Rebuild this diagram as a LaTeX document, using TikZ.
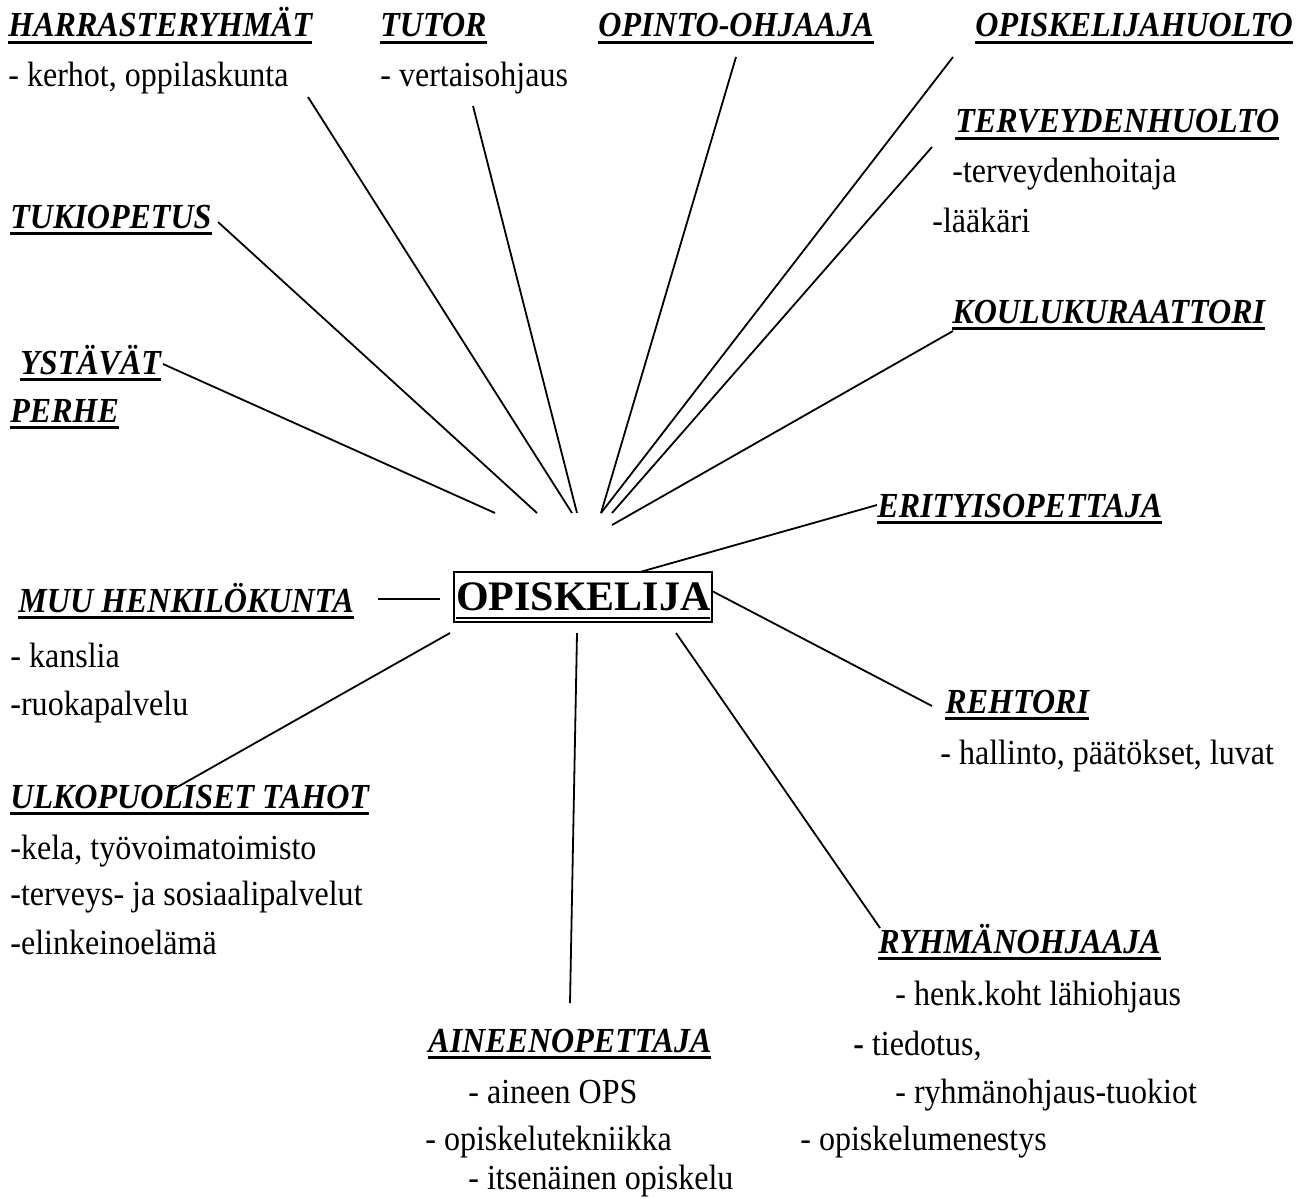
\documentclass[tikz,border=0pt]{standalone}
\usepackage{fontspec}
\setmainfont{Liberation Serif}[FakeStretch=0.91]
\newfontfamily\centerfont{Liberation Serif}
\newcommand\myul[1]{\setbox0\hbox{#1}\rlap{\rule[-3.3pt]{\wd0}{1.3pt}}\box0}
\newcommand\mybigul[1]{\setbox0\hbox{#1}\rlap{\rule[-4.5pt]{\wd0}{1pt}}\box0}
\begin{document}
\begin{tikzpicture}[x=0.5pt,y=-0.5pt,
  head/.style={anchor=base west, inner sep=0pt, font=\fontsize{17.6}{21}\selectfont\bfseries\itshape},
  body/.style={anchor=base west, inner sep=0pt, font=\fontsize{17.6}{21}\selectfont},
  conn/.style={line width=0.9pt}]
\useasboundingbox (0,0) rectangle (1309,1198);
% central node
\node[draw, line width=1pt, anchor=base west, inner xsep=1pt, inner ysep=0pt,
  text height=19pt, text depth=6pt, font=\centerfont\fontsize{21}{25}\selectfont\bfseries]
  (opisk) at (453,610) {\mybigul{OPISKELIJA}};
% headings
\node[head] (harr) at (8,37) {\myul{HARRASTERYHMÄT}};
\node[head] (tutor) at (380,37) {\myul{TUTOR}};
\node[head] (opinto) at (598,37) {\myul{OPINTO-OHJAAJA}};
\node[head] (ohuolto) at (975,37) {\myul{OPISKELIJAHUOLTO}};
\node[head] (terv) at (955,133) {\myul{TERVEYDENHUOLTO}};
\node[head] (tuki) at (10,228) {\myul{TUKIOPETUS}};
\node[head] (koulu) at (952,323) {\myul{KOULUKURAATTORI}};
\node[head] (ystavat) at (20,374) {\myul{YSTÄVÄT}};
\node[head] (perhe) at (10,422) {\myul{PERHE}};
\node[head] (erity) at (877,517) {\myul{ERITYISOPETTAJA}};
\node[head] (muu) at (18,612) {\myul{MUU HENKILÖKUNTA}};
\node[head] (rehtori) at (945,713) {\myul{REHTORI}};
\node[head] (ulko) at (10,808) {\myul{ULKOPUOLISET TAHOT}};
\node[head] (ryhma) at (878,953) {\myul{RYHMÄNOHJAAJA}};
\node[head] (aineen) at (428,1052) {\myul{AINEENOPETTAJA}};
% body texts
\node[body] (b1) at (8,87) {- kerhot, oppilaskunta};
\node[body] (b2) at (380,87) {- vertaisohjaus};
\node[body] (b3) at (952,183) {-terveydenhoitaja};
\node[body] (b4) at (932,232) {-lääkäri};
\node[body] (b5) at (10,667) {- kanslia};
\node[body] (b6) at (10,715) {-ruokapalvelu};
\node[body] (b7) at (940,764) {- hallinto, päätökset, luvat};
\node[body] (b8) at (10,859) {-kela, työvoimatoimisto};
\node[body] (b9) at (10,905) {-terveys- ja sosiaalipalvelut};
\node[body] (b10) at (10,954) {-elinkeinoelämä};
\node[body] (b11) at (895,1005) {- henk.koht lähiohjaus};
\node[body] (b12) at (853,1055) {{\bfseries -} tiedotus,};
\node[body] (b13) at (895,1103) {- ryhmänohjaus-tuokiot};
\node[body] (b14) at (800,1150) {- opiskelumenestys};
\node[body] (b15) at (468,1103) {- aineen OPS};
\node[body] (b16) at (425,1150) {- opiskelutekniikka};
\node[body] (b17) at (468,1189) {- itsenäinen opiskelu};
% connector ends
\coordinate (yA) at (163,364);  \coordinate (yB) at (495,513);
\coordinate (tA) at (218,222);  \coordinate (tB) at (537,513);
\coordinate (hA) at (308,97);   \coordinate (hB) at (572,513);
\coordinate (uA) at (473,106);  \coordinate (uB) at (577,513);
\coordinate (oA) at (736,57);   \coordinate (oB) at (601,513);
\coordinate (pA) at (953,57);   \coordinate (pB) at (601,513);
\coordinate (vA) at (932,147);  \coordinate (vB) at (612,513);
\coordinate (kA) at (953,331);  \coordinate (kB) at (612,525);
\coordinate (eA) at (877,505);  \coordinate (eB) at (640,572);
\coordinate (mA) at (378,599);  \coordinate (mB) at (440,599);
\coordinate (rA) at (712,591);  \coordinate (rB) at (932,706);
\coordinate (lA) at (450,633);  \coordinate (lB) at (172,790);
\coordinate (aA) at (577,633);  \coordinate (aB) at (570,1003);
\coordinate (gA) at (676,633);  \coordinate (gB) at (880,928);
\draw[conn] (yA) -- (yB);
\draw[conn] (tA) -- (tB);
\draw[conn] (hA) -- (hB);
\draw[conn] (uA) -- (uB);
\draw[conn] (oA) -- (oB);
\draw[conn] (pA) -- (pB);
\draw[conn] (vA) -- (vB);
\draw[conn] (kA) -- (kB);
\draw[conn] (eA) -- (eB);
\draw[conn] (mA) -- (mB);
\draw[conn] (rA) -- (rB);
\draw[conn] (lA) -- (lB);
\draw[conn] (aA) -- (aB);
\draw[conn] (gA) -- (gB);
\end{tikzpicture}
\end{document}
